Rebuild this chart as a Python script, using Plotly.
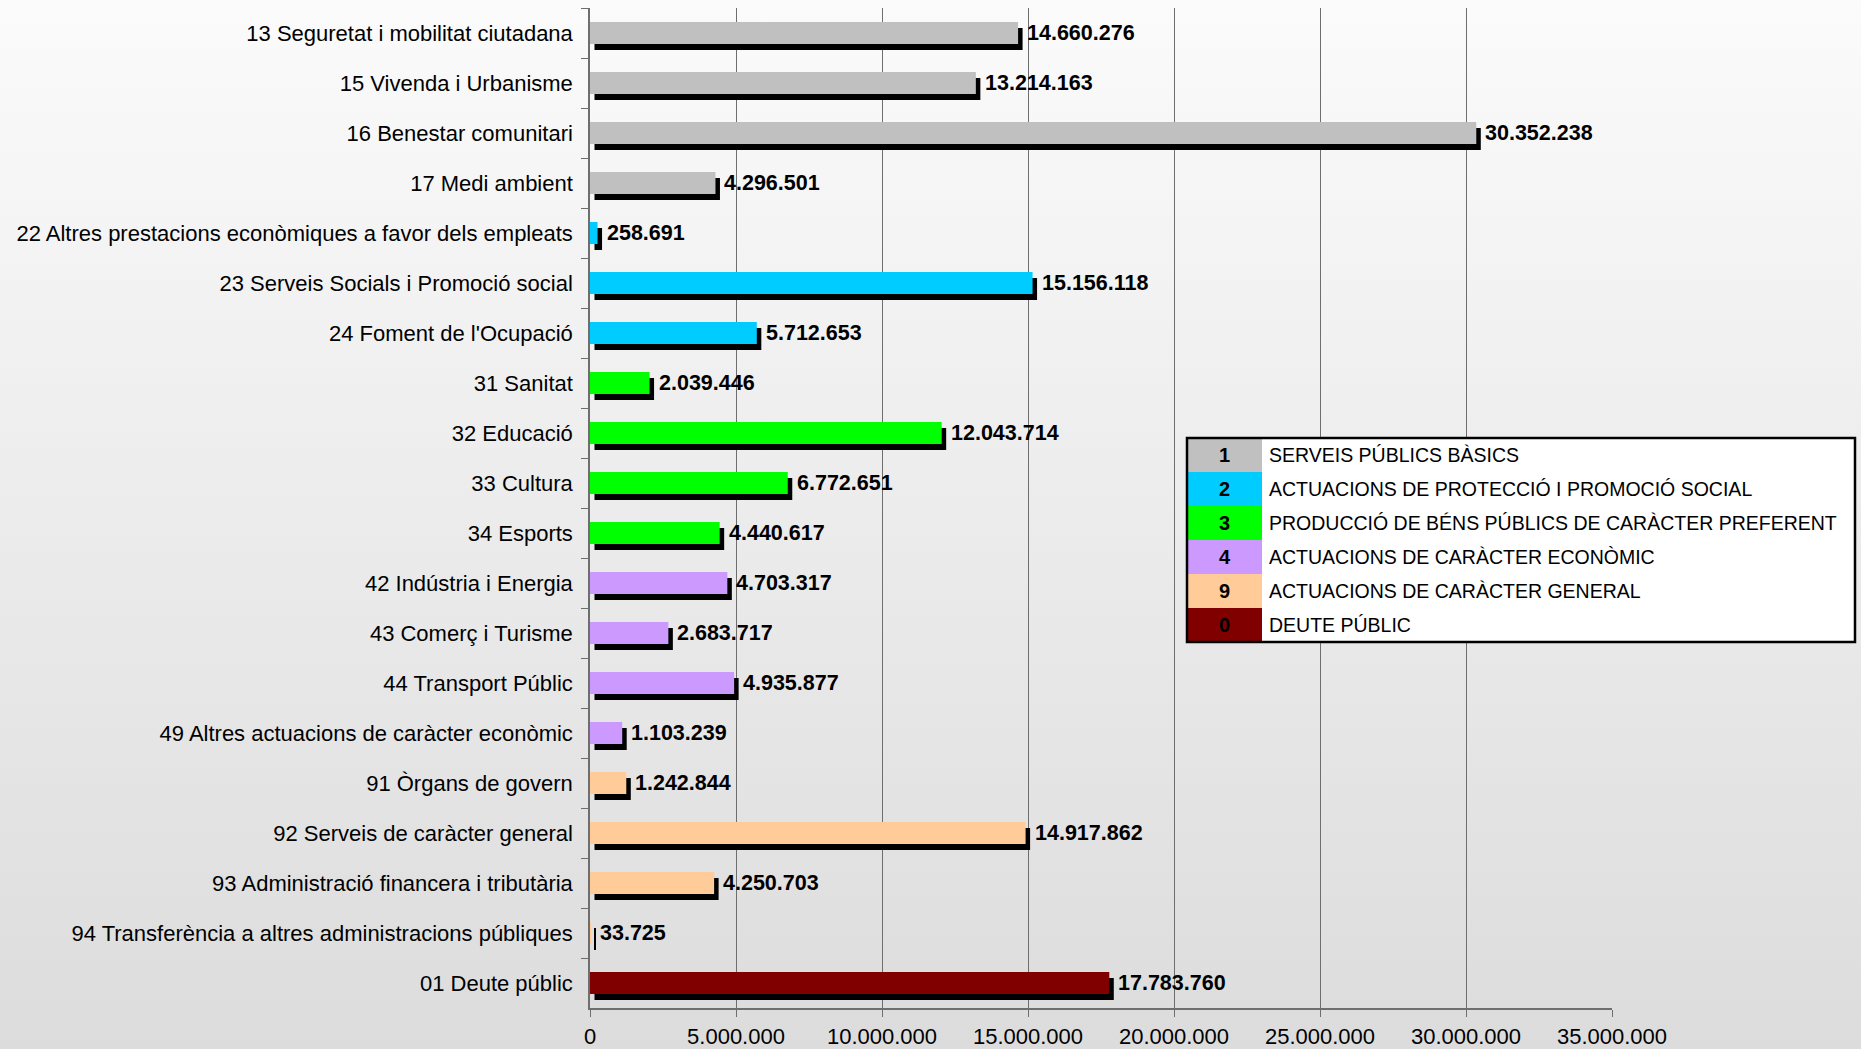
import base64
import plotly.graph_objects as go

# ---------------- data ----------------
categories = [
    "13 Seguretat i mobilitat ciutadana",
    "15 Vivenda i Urbanisme",
    "16 Benestar comunitari",
    "17 Medi ambient",
    "22 Altres prestacions econòmiques a favor dels empleats",
    "23 Serveis Socials i Promoció social",
    "24 Foment de l'Ocupació",
    "31 Sanitat",
    "32 Educació",
    "33 Cultura",
    "34 Esports",
    "42 Indústria i Energia",
    "43 Comerç i Turisme",
    "44 Transport Públic",
    "49 Altres actuacions de caràcter econòmic",
    "91 Òrgans de govern",
    "92 Serveis de caràcter general",
    "93 Administració financera i tributària",
    "94 Transferència a altres administracions públiques",
    "01 Deute públic",
]
values = [
    14660276, 13214163, 30352238, 4296501, 258691, 15156118, 5712653,
    2039446, 12043714, 6772651, 4440617, 4703317, 2683717, 4935877,
    1103239, 1242844, 14917862, 4250703, 33725, 17783760,
]
groups = ["1", "1", "1", "1", "2", "2", "2", "3", "3", "3", "3",
          "4", "4", "4", "4", "9", "9", "9", "9", "0"]

group_codes = ["1", "2", "3", "4", "9", "0"]
group_names = [
    "SERVEIS PÚBLICS BÀSICS",
    "ACTUACIONS DE PROTECCIÓ I PROMOCIÓ SOCIAL",
    "PRODUCCIÓ DE BÉNS PÚBLICS DE CARÀCTER PREFERENT",
    "ACTUACIONS DE CARÀCTER ECONÒMIC",
    "ACTUACIONS DE CARÀCTER GENERAL",
    "DEUTE PÚBLIC",
]
group_colors = ["#C0C0C0", "#00CCFF", "#00FF00", "#CC99FF", "#FFCC99", "#800000"]

x_ticks = [0, 5000000, 10000000, 15000000, 20000000, 25000000, 30000000, 35000000]
x_tick_labels = ["0", "5.000.000", "10.000.000", "15.000.000", "20.000.000",
                 "25.000.000", "30.000.000", "35.000.000"]
x_max = 35000000

# ---------------- layout geometry ----------------
W, H = 1861, 1049
ML, MR, MT, MB = 590, 249, 8, 41
PW, PH = W - ML - MR, H - MT - MB

FONT = "Liberation Sans, Arial, sans-serif"


def fmt(v):
    return f"{v:,}".replace(",", ".")


def pxx(px):
    return (px - ML) / PW


def pxy(py):
    return (H - MB - py) / PH


color_of = dict(zip(group_codes, group_colors))
bar_colors = [color_of[g] for g in groups]

BAR_W = 0.44
SH_DX_PX = 4.5
SH_DY = 0.12
dx_data = SH_DX_PX / PW * x_max

fig = go.Figure()

# shadow
fig.add_trace(go.Bar(
    y=categories, x=values, base=[dx_data] * len(values), orientation="h",
    width=BAR_W, offset=-BAR_W / 2 + SH_DY,
    marker=dict(color="black", line=dict(width=0)),
    hoverinfo="skip", showlegend=False,
))
# main bars
fig.add_trace(go.Bar(
    y=categories, x=values, orientation="h",
    width=BAR_W, offset=-BAR_W / 2,
    marker=dict(color=bar_colors, line=dict(width=0)),
    showlegend=False,
))

annotations = []
for c, v in zip(categories, values):
    annotations.append(dict(
        x=v, y=c, xref="x", yref="y", xanchor="left", yanchor="middle",
        xshift=7, showarrow=False, text="<b>" + fmt(v) + "</b>",
        font=dict(family=FONT, size=21.5, color="black"),
    ))

# custom legend box
LX0, LX1, LY0, LY1 = 1187, 1855, 438, 642
SW = 75
row_h = (LY1 - LY0) / len(group_codes)
shapes = [dict(type="rect", xref="paper", yref="paper",
               x0=pxx(LX0), x1=pxx(LX1), y0=pxy(LY1), y1=pxy(LY0),
               fillcolor="white", line=dict(width=0), layer="above")]
for i, (code, name, col) in enumerate(zip(group_codes, group_names, group_colors)):
    ty = LY0 + i * row_h
    by = ty + row_h
    shapes.append(dict(type="rect", xref="paper", yref="paper",
                       x0=pxx(LX0), x1=pxx(LX0 + SW), y0=pxy(by), y1=pxy(ty),
                       fillcolor=col, line=dict(width=0), layer="above"))
    annotations.append(dict(
        x=pxx(LX0 + SW / 2), y=pxy(ty + row_h / 2), xref="paper", yref="paper",
        xanchor="center", yanchor="middle", showarrow=False,
        text="<b>" + code + "</b>", font=dict(family=FONT, size=20, color="black")))
    annotations.append(dict(
        x=pxx(LX0 + SW + 5), y=pxy(ty + row_h / 2), xref="paper", yref="paper",
        xanchor="left", yanchor="middle", showarrow=False,
        text=name, font=dict(family=FONT, size=19.5, color="black")))
shapes.append(dict(type="rect", xref="paper", yref="paper",
                   x0=pxx(LX0), x1=pxx(LX1), y0=pxy(LY1), y1=pxy(LY0),
                   fillcolor="rgba(0,0,0,0)", line=dict(width=2.5, color="black"),
                   layer="above"))

# gradient background via inline svg
svg = (f'<svg xmlns="http://www.w3.org/2000/svg" width="{W}" height="{H}" '
       f'viewBox="0 0 {W} {H}" preserveAspectRatio="none">'
       '<defs><linearGradient id="g" x1="0" y1="0" x2="0" y2="1">'
       '<stop offset="0" stop-color="#fbfbfb"/>'
       '<stop offset="1" stop-color="#dcdcdc"/>'
       '</linearGradient></defs>'
       f'<rect x="0" y="0" width="{W}" height="{H}" fill="url(#g)"/></svg>')
src = "data:image/svg+xml;base64," + base64.b64encode(svg.encode()).decode()

fig.update_layout(
    width=W, height=H,
    margin=dict(l=ML, r=MR, t=MT, b=MB, pad=0, autoexpand=False),
    barmode="overlay",
    paper_bgcolor="white",
    plot_bgcolor="rgba(0,0,0,0)",
    font=dict(family=FONT, color="black"),
    showlegend=False,
    shapes=shapes,
    annotations=annotations,
    images=[dict(source=src, xref="paper", yref="paper",
                 x=pxx(0), y=pxy(0), sizex=W / PW, sizey=H / PH,
                 xanchor="left", yanchor="top", sizing="stretch",
                 layer="below")],
    xaxis=dict(
        range=[0, x_max], tickvals=x_ticks, ticktext=x_tick_labels,
        showgrid=True, gridcolor="#6e6e6e", gridwidth=1,
        showline=True, linecolor="#6e6e6e", linewidth=1.5,
        ticks="outside", ticklen=7, tickcolor="#6e6e6e",
        ticklabelstandoff=1, automargin=False,
        zeroline=False, tickfont=dict(family=FONT, size=22, color="black"),
        fixedrange=True,
    ),
    yaxis=dict(
        type="category", categoryorder="array", categoryarray=categories,
        autorange="reversed", tickson="boundaries",
        showgrid=False, showline=True, linecolor="#6e6e6e", linewidth=1.5,
        ticks="outside", ticklen=7, tickcolor="#6e6e6e",
        ticklabelstandoff=11, automargin=False,
        tickfont=dict(family=FONT, size=22, color="black"),
        fixedrange=True,
    ),
)

fig.write_html(
    "out.html",
    config={"displayModeBar": False},
    post_script="document.body.style.margin='0';document.body.style.overflow='hidden';",
)
